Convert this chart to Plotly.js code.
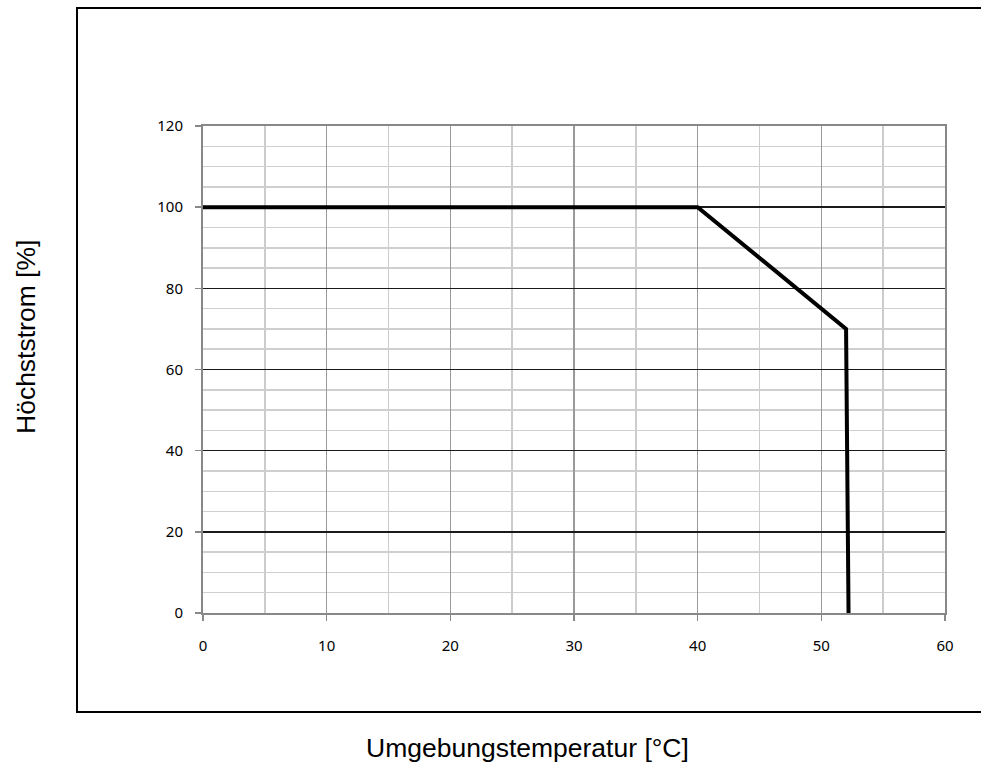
<!DOCTYPE html>
<html>
<head>
<meta charset="utf-8">
<script src="https://cdn.plot.ly/plotly-3.0.1.min.js"></script>
<style>html,body{margin:0;padding:0;background:#fff;}#chart{width:981px;height:765px;}</style>
</head>
<body>
<div id="chart"></div>
<script>
// Data
const temperature = [0, 40, 52, 52.2];      // Umgebungstemperatur [°C]
const maxCurrent = [100, 100, 70, 0];       // Höchststrom [%]
const xTickValues = [0, 10, 20, 30, 40, 50, 60];
const yTickValues = [0, 20, 40, 60, 80, 100, 120];
const xTitle = 'Umgebungstemperatur [°C]';
const yTitle = 'Höchststrom [%]';

const trace = {
  x: temperature,
  y: maxCurrent,
  type: 'scatter',
  mode: 'lines',
  line: {color: '#000000', width: 4},
  hoverinfo: 'x+y'
};

const tickFont = {family: 'Noto Sans, Open Sans, sans-serif', size: 15, color: '#000'};
const titleFont = {family: 'Liberation Sans, Arial, sans-serif', size: 26.5, color: '#000'};

const layout = {
  width: 981,
  height: 765,
  margin: {l: 203, r: 36, t: 126, b: 152},
  paper_bgcolor: '#ffffff',
  plot_bgcolor: '#ffffff',
  showlegend: false,
  xaxis: {
    range: [0, 60],
    tickvals: xTickValues,
    ticktext: xTickValues.map(String),
    tickfont: tickFont,
    ticks: 'outside',
    ticklen: 6,
    tickwidth: 1.5,
    tickcolor: '#888888',
    ticklabelstandoff: 12,
    showline: true,
    linecolor: '#888888',
    linewidth: 2,
    mirror: true,
    showgrid: true,
    gridcolor: '#9a9a9a',
    gridwidth: 1.5,
    zeroline: false,
    minor: {dtick: 5, showgrid: true, gridcolor: '#cccccc', gridwidth: 1.5, ticks: ''},
    automargin: false,
    fixedrange: true
  },
  yaxis: {
    range: [0, 120],
    tickvals: yTickValues,
    ticktext: yTickValues.map(String),
    tickfont: tickFont,
    ticks: 'outside',
    ticklen: 6,
    tickwidth: 1.5,
    tickcolor: '#888888',
    ticklabelstandoff: 9,
    showline: true,
    linecolor: '#888888',
    linewidth: 2,
    mirror: true,
    showgrid: true,
    gridcolor: '#1a1a1a',
    gridwidth: 1.5,
    zeroline: false,
    minor: {dtick: 5, showgrid: true, gridcolor: '#cfcfcf', gridwidth: 1.5, ticks: ''},
    automargin: false,
    fixedrange: true
  },
  annotations: [
    {
      text: xTitle, xref: 'paper', yref: 'paper',
      x: (527 - 203) / 742, y: (613 - 748) / 487,
      xanchor: 'center', yanchor: 'middle', showarrow: false, font: titleFont
    },
    {
      text: yTitle, xref: 'paper', yref: 'paper', textangle: -90,
      x: (26 - 203) / 742, y: (613 - 337) / 487,
      xanchor: 'center', yanchor: 'middle', showarrow: false, font: titleFont
    }
  ],
  shapes: [
    {
      type: 'rect', xref: 'paper', yref: 'paper',
      x0: -0.1698, x1: 1.2, y0: -0.2033, y1: 1.2423,
      line: {color: '#000000', width: 2},
      fillcolor: 'rgba(0,0,0,0)',
      layer: 'below'
    }
  ]
};

Plotly.newPlot('chart', [trace], layout, {displayModeBar: false, staticPlot: true});
</script>
</body>
</html>
